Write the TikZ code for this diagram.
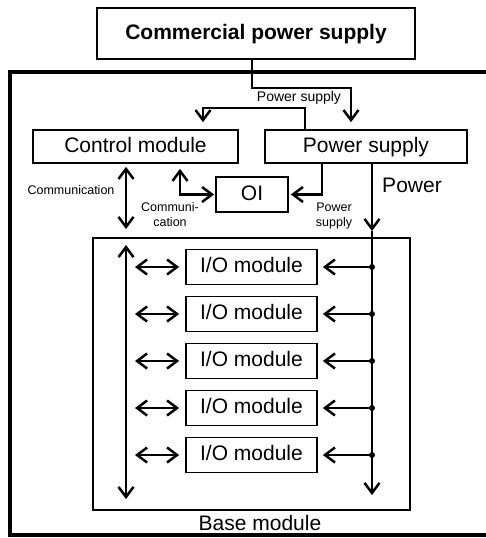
\documentclass[tikz,border=0pt]{standalone}
\usepackage{fontspec}
\setmainfont{Liberation Sans}
\usetikzlibrary{arrows.meta}

\begin{document}
\begin{tikzpicture}[x=1pt,y=-1pt,>={Straight Barb[length=10pt,width=15pt]},line width=2.5pt]
    \tikzstyle{box}=[draw,line width=1.8pt,align=center,inner sep=0pt,text height=15pt,text depth=4pt,font=\fontsize{21}{24}\selectfont]
    \tikzstyle{lbl}=[align=center,inner sep=0pt,font=\fontsize{12.5}{15}\selectfont]
    \useasboundingbox (0,0) rectangle (486,538);
    \clip (0,0) rectangle (486,538);
    \draw[line width=4pt] (10,72) rectangle (500,535);
    \node[box,minimum width=318pt,minimum height=51pt,font=\bfseries\fontsize{21}{24}\selectfont] (cps) at (256,33.5) {Commercial power supply};
    \node[box,minimum width=205pt,minimum height=33pt] (ctrl) at (135.5,146.5) {Control module};
    \node[box,minimum width=202pt,minimum height=33pt] (ps)   at (366,146.5)   {Power supply};
    \node[box,minimum width=72pt,minimum height=35pt]  (oi)   at (252,194.5)   {OI};
    \node[draw,line width=2pt,minimum width=317pt,minimum height=272pt] (base) at (251.5,374) {};
    \node[box,draw=none] (baselbl) at (260,525) {Base module};
    \node[box,draw=none] (pwr)     at (412,187) {Power};
    \node[lbl,font=\fontsize{14}{16}\selectfont] (pslbl) at (299,98) {Power supply};
    \node[lbl] (comm1) at (71,190)  {Communication};
    \node[lbl] (comm2) at (170,215) {Communi-\\cation};
    \node[lbl] (pwrsup) at (334,216) {Power\\supply};
    \coordinate (split)    at (252,88);
    \coordinate (ctrlfeed) at (305,108);
    \coordinate (bustop)   at (126,245);
    \coordinate (busbot)   at (126,499);
    \coordinate (pwrmid)   at (372,231);
    \coordinate (pwrend)   at (372,495);
    \draw[->,shorten >=7pt] ([xshift=-4pt]cps.south) -- (split) -| ([xshift=-15pt]ps.north);
    \draw[->,shorten >=7pt] ([xshift=-61pt]ps.north) |- (ctrlfeed) -| ([xshift=67.5pt]ctrl.north);
    \draw[<->,shorten <=3pt,shorten >=8pt] ([xshift=-9.5pt]ctrl.south) -- ([xshift=-9.5pt]ctrl.south |- base.north);
    \draw[<->,shorten <=5pt,shorten >=1pt] ([xshift=44.5pt]ctrl.south) |- (oi.west);
    \draw[->,shorten >=2pt] ([xshift=-44pt]ps.south) |- (oi.east);
    \draw[->] ([xshift=6pt]ps.south) -- (pwrmid);
    \draw[->] (pwrmid) -- (pwrend);
    \draw[<->] (bustop) -- (busbot);
    \foreach \i in {1,...,5} {
      \node[box,minimum width=131pt,minimum height=35pt] (io\i) at (251.5,{267+47*(\i-1)}) {I/O module};
      \draw[<->,shorten <=9pt,shorten >=6pt] (io\i.west -| bustop) -- (io\i.west);
      \draw[->,shorten >=5pt] (io\i.east -| pwrend) -- (io\i.east);
      \fill (io\i.east -| pwrend) circle (3pt);
    }
\end{tikzpicture}
\end{document}
